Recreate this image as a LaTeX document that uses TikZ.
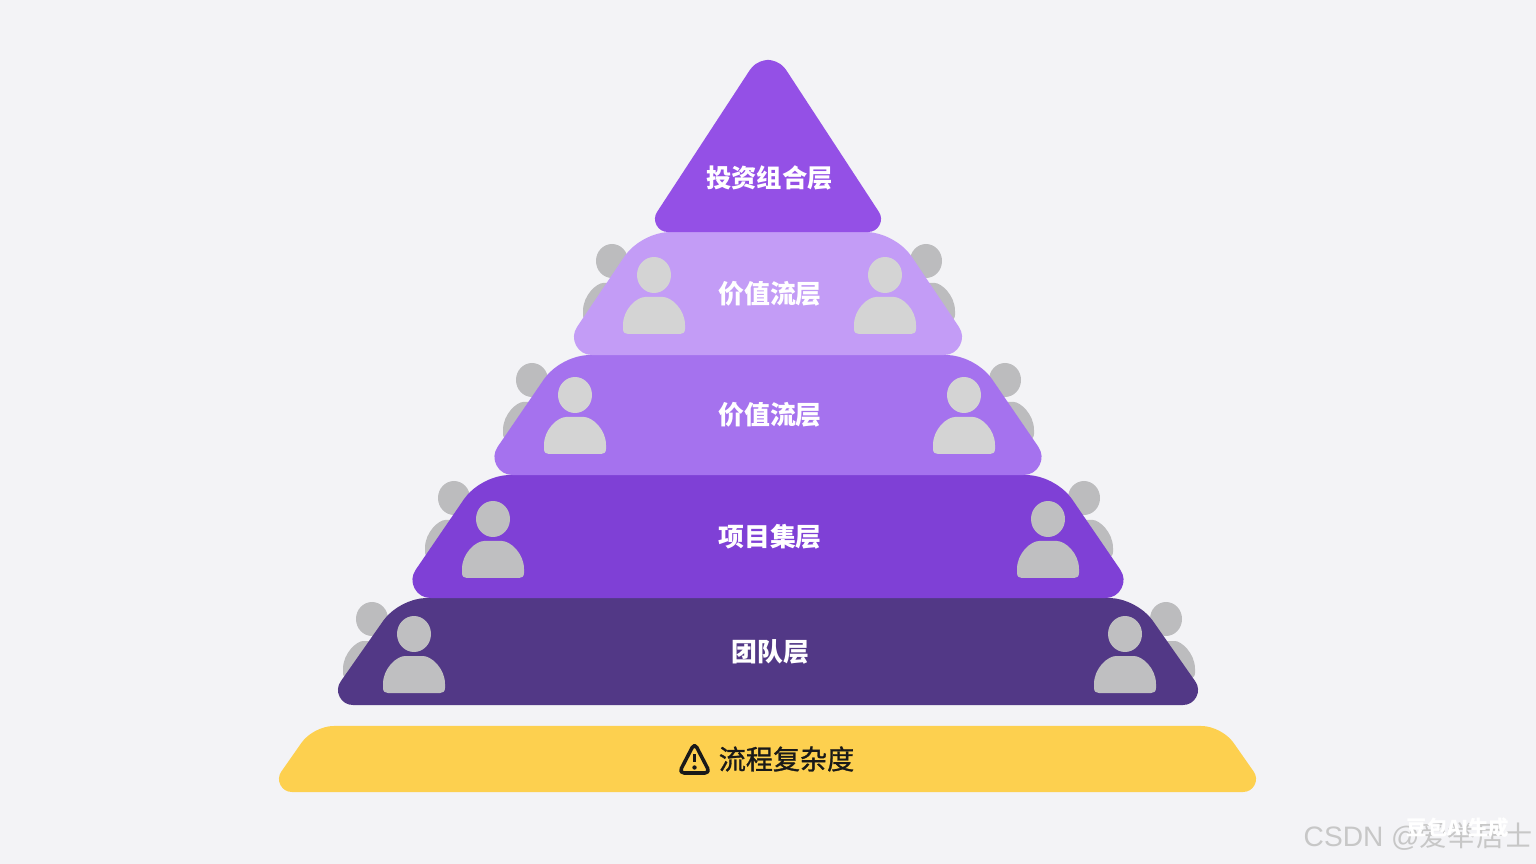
\documentclass[tikz,border=0pt]{standalone}
\usepackage{fontspec}
\setmainfont{Liberation Sans}
\newfontfamily\cjk{Noto Sans CJK SC}
\newfontfamily\cjkmed[FakeBold=1.1]{Noto Sans CJK SC}
\usetikzlibrary{positioning}
\definecolor{pagebg}{HTML}{F3F3F6}
\definecolor{topcol}{HTML}{9450E6}
\definecolor{lightcol}{HTML}{C39CF6}
\definecolor{midcol}{HTML}{A572EE}
\definecolor{progcol}{HTML}{7F40D6}
\definecolor{teamcol}{HTML}{523886}
\definecolor{warncol}{HTML}{FDD04F}
\definecolor{backcol}{HTML}{BCBCBE}
\tikzset{
  layertext/.style={text=white, font=\cjk\fontsize{7.35pt}{8pt}\selectfont\bfseries, inner sep=0pt},
  layer/.style={fill=#1, draw=#1, line join=round},
}
% head at (#1,#2), radius #3, half width #4, colour #5
\newcommand{\person}[5]{
  \begin{scope}[shift={(#1,#2)}]
    \fill[#5] (0,0) ellipse ({#3} and {#3+1});
    \fill[#5] (-#4,50) .. controls (-#4,34) and (-#4+14,22) .. (-9,22) -- (9,22)
      .. controls (#4-14,22) and (#4,34) .. (#4,50) -- (#4,54)
      .. controls (#4,57.5) and (#4-2,59) .. (#4-5,59) -- (-#4+5,59)
      .. controls (-#4+2,59) and (-#4,57.5) .. (-#4,54) -- cycle;
  \end{scope}
}
\begin{document}
\begin{tikzpicture}[x=0.01cm,y=-0.01cm]
  \useasboundingbox (0,0) rectangle (1536,864);
  \fill[pagebg] (0,0) rectangle (1536,864);

  % Back row
  \person{612}{261}{16}{29}{backcol}
  \person{926}{261}{16}{29}{backcol}
  \person{532}{380}{16}{29}{backcol}
  \person{1005}{380}{16}{29}{backcol}
  \person{454}{498}{16}{29}{backcol}
  \person{1084}{498}{16}{29}{backcol}
  \person{372}{619}{16}{29}{backcol}
  \person{1166}{619}{16}{29}{backcol}

  % Layers
  \path[layer=warncol, line width=0.26cm] (768,779) -- (292,779) [rounded corners=0.14cm] -- (320,739) -- (1215,739) [sharp corners] -- (1243,779) -- cycle;
  \path[layer=teamcol, line width=0.30cm] (768,690) -- (353,690) [rounded corners=0.2cm] -- (407,613) -- (1129,613) [sharp corners] -- (1183,690) -- cycle;
  \path[layer=progcol, line width=0.36cm] (768,580) -- (430.5,580) [rounded corners=0.2cm] -- (490,493) -- (1046,493) [sharp corners] -- (1105.5,580) -- cycle;
  \path[layer=midcol, line width=0.36cm] (768,457) -- (512.5,457) [rounded corners=0.2cm] -- (570,373) -- (966,373) [sharp corners] -- (1023.5,457) -- cycle;
  \path[layer=lightcol, line width=0.36cm] (768,337) -- (592,337) [rounded corners=0.2cm] -- (650.5,250) -- (885.5,250) [sharp corners] -- (944,337) -- cycle;
  \path[layer=topcol, line width=0.26cm] (768,219) -- (668,219) [rounded corners=0.14cm] -- (768,66) [sharp corners] -- (868,219) -- cycle;

  % Front row
  \person{654}{275}{17}{31}{black!17!white}
  \person{885}{275}{17}{31}{black!17!white}
  \person{575}{395}{17}{31}{black!17!white}
  \person{964}{395}{17}{31}{black!17!white}
  \person{493}{519}{17}{31}{backcol!95!white}
  \person{1048}{519}{17}{31}{backcol!95!white}
  \person{414}{634}{17}{31}{backcol!95!white}
  \person{1125}{634}{17}{31}{backcol!95!white}

  % Labels
  \node[layertext, font=\cjk\fontsize{7.2pt}{8pt}\selectfont\bfseries] (portfolio) at (769.5,178) {投资组合层};
  \node[layertext] (stream1) at (770,294) {价值流层};
  \node[layertext] (stream2) at (770,415) {价值流层};
  \node[layertext] (program) at (770,537) {项目集层};
  \node[layertext] (team) at (770.5,652) {团队层};
  \node[text=black!90!white, font=\cjkmed\fontsize{7.7pt}{8pt}\selectfont, inner sep=0pt] (complexity) at (786.5,759) {流程复杂度};

  % Warning sign
  \draw[black!90!white, line width=1pt, rounded corners=0.05cm, line join=round] (679,773) -- (694.5,743) -- (710,773) -- cycle;
  \draw[black!90!white, line width=1pt] (694.5,754) -- (694.5,762);
  \fill[black!90!white] (694.5,767.5) circle (2.2);

  % Watermark
  \node[text=black!22!white, font=\fontsize{8pt}{9pt}\selectfont, inner sep=0pt, anchor=east] (mark) at (1533,837) {CSDN @{\cjk 爱举居士}};
  \node[text=white, font=\cjk\fontsize{5.8pt}{7pt}\selectfont\bfseries, inner sep=0pt] (ai) at (1458,828) {豆包AI生成};
\end{tikzpicture}
\end{document}
